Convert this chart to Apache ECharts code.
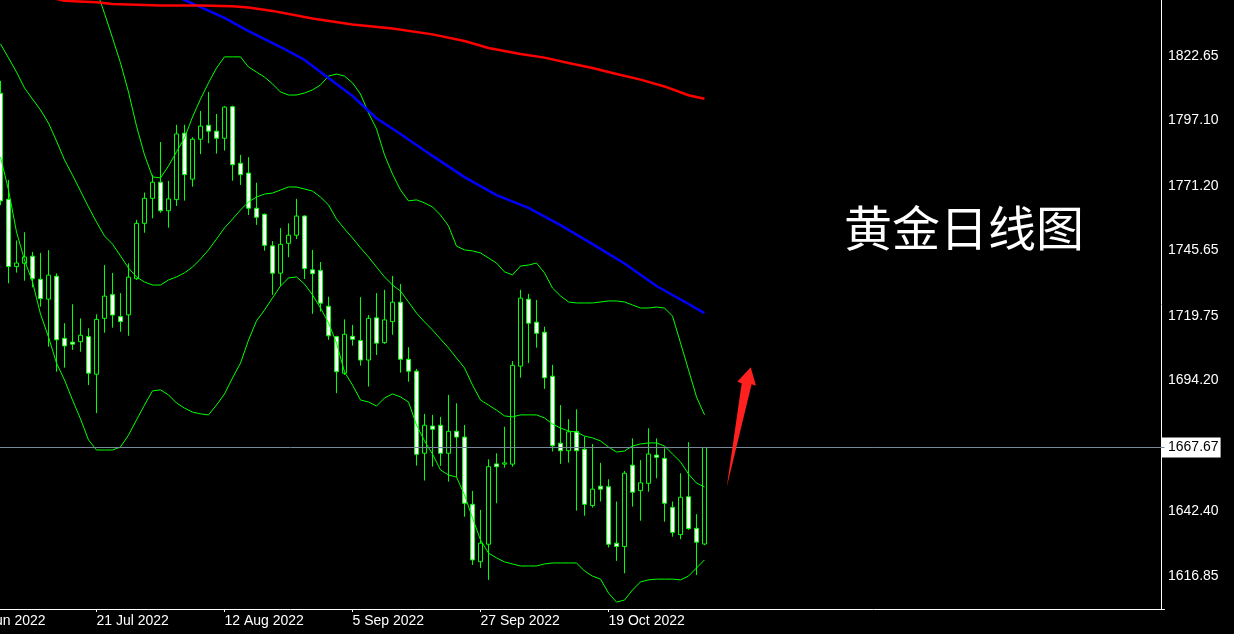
<!DOCTYPE html>
<html><head><meta charset="utf-8">
<script src="https://cdn.jsdelivr.net/npm/echarts/dist/echarts.min.js"></script>
<style>html,body{margin:0;padding:0;background:#000;}#c{width:1234px;height:634px;}</style>
</head><body><div id="c"></div>
<script>
// trading-day categories (first 4 are off-screen to the left)
const dates = ['29 Jun 2022','30 Jun 2022','1 Jul 2022','4 Jul 2022','5 Jul 2022','6 Jul 2022','7 Jul 2022','8 Jul 2022','11 Jul 2022','12 Jul 2022','13 Jul 2022','14 Jul 2022','15 Jul 2022','18 Jul 2022','19 Jul 2022','20 Jul 2022','21 Jul 2022','22 Jul 2022','25 Jul 2022','26 Jul 2022','27 Jul 2022','28 Jul 2022','29 Jul 2022','1 Aug 2022','2 Aug 2022','3 Aug 2022','4 Aug 2022','5 Aug 2022','8 Aug 2022','9 Aug 2022','10 Aug 2022','11 Aug 2022','12 Aug 2022','15 Aug 2022','16 Aug 2022','17 Aug 2022','18 Aug 2022','19 Aug 2022','22 Aug 2022','23 Aug 2022','24 Aug 2022','25 Aug 2022','26 Aug 2022','29 Aug 2022','30 Aug 2022','31 Aug 2022','1 Sep 2022','2 Sep 2022','5 Sep 2022','6 Sep 2022','7 Sep 2022','8 Sep 2022','9 Sep 2022','12 Sep 2022','13 Sep 2022','14 Sep 2022','15 Sep 2022','16 Sep 2022','19 Sep 2022','20 Sep 2022','21 Sep 2022','22 Sep 2022','23 Sep 2022','26 Sep 2022','27 Sep 2022','28 Sep 2022','29 Sep 2022','30 Sep 2022','3 Oct 2022','4 Oct 2022','5 Oct 2022','6 Oct 2022','7 Oct 2022','10 Oct 2022','11 Oct 2022','12 Oct 2022','13 Oct 2022','14 Oct 2022','17 Oct 2022','18 Oct 2022','19 Oct 2022','20 Oct 2022','21 Oct 2022','24 Oct 2022','25 Oct 2022','26 Oct 2022','27 Oct 2022','28 Oct 2022','31 Oct 2022','1 Nov 2022','2 Nov 2022','3 Nov 2022','4 Nov 2022'];
const firstCandleDate = '5 Jul 2022';
const emptySlots = 57;

// OHLC from 5 Jul 2022 to 4 Nov 2022
const opens = [1807.9,1765.9,1739.3,1740.6,1743.4,1734.3,1726.4,1735.5,1710.9,1709.4,
1709.6,1711.6,1696.7,1718.8,1728.2,1719.5,1720.2,1734.5,1756.4,1766.3,
1772.7,1761.4,1765.8,1792.1,1773.9,1789.7,1795.2,1792.9,1790.1,1802.6,
1780.2,1776.3,1762.4,1760.0,1747.5,1736.7,1748.5,1751.7,1759.3,1738.0,
1737.8,1723.6,1711.6,1697.1,1711.7,1710.0,1702.3,1719.0,1709.2,1717.5,
1725.2,1702.6,1697.9,1665.4,1676.2,1676.5,1665.4,1674.1,1671.8,1645.2,
1622.5,1629.4,1661.2,1661.1,1661.1,1699.9,1726.4,1717.3,1713.3,1695.9,
1669.4,1666.4,1674.0,1667.0,1644.7,1652.4,1652.2,1629.8,1628.5,1660.7,
1650.6,1653.5,1664.7,1663.4,1644.0,1633.2,1648.2,1635.7,1629.5];
const highs = [1812.8,1773.6,1749.6,1752.9,1745.1,1744.7,1745.8,1736.6,1716.9,1724.4,
1718.8,1714.9,1720.4,1739.9,1736.8,1728.8,1740.6,1757.8,1768.6,1775.6,
1788.6,1773.2,1795.4,1795.4,1790.5,1800.9,1808.4,1799.7,1802.8,1803.0,
1783.5,1782.6,1772.5,1760.3,1749.4,1754.5,1756.4,1766.1,1759.6,1745.9,
1741.1,1727.4,1711.9,1718.4,1716.2,1727.2,1720.1,1728.8,1730.1,1735.6,
1732.4,1707.4,1698.8,1681.0,1680.6,1679.8,1688.5,1685.2,1676.6,1650.5,
1643.0,1663.0,1665.4,1675.9,1701.9,1730.1,1728.5,1726.1,1715.5,1700.4,
1684.5,1678.9,1682.8,1672.0,1669.1,1661.6,1655.1,1646.3,1658.4,1671.3,
1662.7,1675.3,1671.3,1667.4,1646.3,1657.5,1669.8,1641.3,1667.9];
const lows = [1763.6,1732.7,1736.9,1733.7,1731.1,1723.4,1707.6,1697.7,1699.3,1706.3,
1705.6,1692.4,1681.3,1713.1,1715.1,1713.5,1711.9,1734.0,1752.7,1758.4,
1760.6,1754.7,1763.3,1765.4,1770.9,1783.8,1788.1,1784.0,1785.2,1773.3,
1771.6,1759.7,1755.8,1745.6,1728.1,1731.6,1743.0,1750.2,1734.4,1720.6,
1721.5,1710.3,1689.2,1696.4,1708.0,1700.1,1691.8,1704.3,1708.7,1712.3,
1697.3,1693.7,1660.5,1654.6,1660.1,1660.4,1654.2,1656.1,1640.3,1621.2,
1620.0,1615.3,1645.6,1659.7,1660.1,1695.3,1701.1,1707.2,1690.9,1666.1,
1661.2,1661.7,1642.7,1640.7,1643.9,1646.3,1628.1,1622.8,1617.9,1644.3,
1638.7,1650.2,1655.5,1638.3,1632.4,1631.4,1635.1,1617.2,1629.0];
const closes = [1765.3,1739.3,1740.7,1743.1,1734.5,1726.6,1735.9,1710.3,1707.9,1708.6,
1712.1,1697.1,1718.4,1727.6,1720.1,1717.5,1735.1,1756.4,1766.3,1772.7,
1761.4,1766.1,1791.8,1775.7,1789.7,1794.9,1792.9,1790.1,1802.4,1779.6,
1775.7,1762.4,1758.8,1747.7,1736.7,1748.1,1751.7,1759.3,1738.5,1736.5,
1724.8,1711.9,1697.7,1712.5,1710.5,1702.3,1718.8,1709.0,1718.2,1725.2,
1702.6,1697.9,1665.0,1676.5,1674.9,1665.4,1674.1,1671.8,1645.6,1623.2,
1629.8,1660.1,1660.1,1661.6,1700.2,1726.8,1716.9,1712.9,1695.3,1668.4,
1666.4,1673.9,1666.4,1645.2,1651.2,1651.2,1629.4,1628.5,1657.5,1650.0,
1653.7,1665.1,1663.8,1645.6,1634.1,1648.0,1635.6,1630.2,1667.67];

// Bollinger bands, aligned with candles
const bbMiddle = [1827.4,1821.9,1816.3,1810.0,1805.6,1801.3,1796.1,1789.0,1781.5,1775.5,
1769.2,1762.9,1756.9,1751.4,1748.2,1743.5,1738.7,1735.2,1733.2,1732.0,
1732.0,1734.0,1735.2,1736.8,1739.1,1742.3,1745.9,1750.2,1754.6,1758.1,
1761.7,1764.9,1766.8,1768.0,1768.4,1769.6,1770.8,1770.8,1770.0,1769.2,
1766.8,1763.7,1758.1,1754.2,1750.6,1746.7,1743.1,1739.1,1735.2,1732.0,
1729.6,1725.3,1720.9,1717.4,1714.2,1710.6,1707.1,1703.1,1699.2,1692.4,
1686.5,1684.5,1682.5,1680.2,1679.8,1680.6,1680.6,1680.6,1679.4,1677.0,
1675.4,1674.2,1673.8,1672.2,1671.5,1670.3,1667.9,1665.9,1666.3,1668.3,
1669.1,1669.5,1669.5,1668.3,1665.1,1662.0,1657.2,1653.6,1652.1];
const bbLower = [1782.7,1769.6,1753.0,1741.9,1733.2,1720.5,1711.4,1701.1,1694.4,1686.5,
1679.0,1670.7,1666.7,1666.7,1666.7,1667.9,1672.6,1678.6,1684.5,1690.1,
1690.5,1688.5,1685.3,1683.3,1681.7,1681.0,1680.6,1684.5,1688.9,1695.2,
1701.1,1710.2,1717.8,1722.1,1726.9,1731.6,1734.8,1735.2,1732.4,1728.1,
1722.9,1717.0,1709.1,1697.6,1692.4,1686.5,1685.7,1684.1,1687.3,1688.9,
1687.7,1685.7,1676.6,1670.3,1665.1,1658.8,1656.8,1656.0,1648.9,1639.8,
1631.1,1625.9,1624.0,1622.4,1621.6,1620.8,1620.8,1620.8,1621.6,1622.0,
1622.0,1622.0,1622.0,1618.8,1616.8,1615.6,1610.1,1606.5,1607.3,1611.3,
1614.5,1615.3,1615.6,1615.6,1615.6,1615.3,1616.8,1620.0,1623.2];
const bbUpper = [null,null,null,null,null,null,null,null,null,null,null,
1858.7,1848.8,1839.5,1829.8,1819.9,1808.4,1794.9,1783.5,1774.8,
1774.4,1779.1,1784.7,1790.2,1798.5,1805.6,1812.0,1817.9,1822.3,1822.3,
1822.3,1818.3,1816.3,1814.3,1811.6,1808.4,1807.2,1807.2,1808.0,1809.2,
1811.2,1814.7,1815.5,1814.7,1812.0,1807.6,1800.1,1793.8,1783.5,1775.9,
1769.6,1765.3,1765.7,1764.5,1762.9,1759.7,1755.4,1747.4,1745.9,1745.5,
1744.7,1742.7,1740.7,1737.2,1736.0,1739.5,1739.9,1740.7,1736.8,1730.8,
1727.7,1725.3,1724.9,1724.9,1724.9,1725.3,1725.7,1725.7,1725.3,1724.1,
1722.9,1722.9,1723.3,1722.9,1719.7,1709.1,1698.4,1687.7,1680.6];

// moving averages read at sample dates
const maRed = [['13 Jul 2022',1846.0],['15 Jul 2022',1844.5],['21 Jul 2022',1843.9],['25 Jul 2022',1843.2],
['2 Aug 2022',1842.6],['9 Aug 2022',1842.6],['15 Aug 2022',1842.3],['17 Aug 2022',1841.8],['22 Aug 2022',1840.5],
['29 Aug 2022',1837.5],['5 Sep 2022',1835.1],['12 Sep 2022',1833.5],['19 Sep 2022',1831.2],['23 Sep 2022',1828.6],
['28 Sep 2022',1825.8],['4 Oct 2022',1823.4],['7 Oct 2022',1822.0],['12 Oct 2022',1819.9],['17 Oct 2022',1817.9],
['20 Oct 2022',1815.5],['25 Oct 2022',1813.3],['28 Oct 2022',1810.6],['2 Nov 2022',1807.1],['4 Nov 2022',1805.7]];
const maBlue = [['2 Aug 2022',1849.2],['5 Aug 2022',1844.8],['9 Aug 2022',1842.0],['12 Aug 2022',1837.7],
['17 Aug 2022',1832.5],['23 Aug 2022',1826.2],['26 Aug 2022',1821.1],['31 Aug 2022',1813.9],['5 Sep 2022',1806.8],
['8 Sep 2022',1798.0],['13 Sep 2022',1791.8],['19 Sep 2022',1783.1],['23 Sep 2022',1774.7],['29 Sep 2022',1767.6],
['5 Oct 2022',1762.5],['11 Oct 2022',1755.7],['17 Oct 2022',1748.2],['21 Oct 2022',1740.5],['27 Oct 2022',1731.6],
['2 Nov 2022',1724.5],['4 Nov 2022',1720.9]];

const priceTicks = [1616.85,1642.40,1694.20,1719.75,1745.65,1771.20,1797.10,1822.65];
const currentPrice = 1667.67;
const yMin = 1603.77, yMax = 1844.81;
const titleText = '黄金日线图';

// ---- build ----
const cats = dates.concat(new Array(emptySlots).fill(''));
const off = dates.indexOf(firstCandleDate);
const candleData = cats.map((d, j) => {
  const i = j - off;
  return (i >= 0 && i < opens.length) ? [opens[i], closes[i], lows[i], highs[i]] : '-';
});
const aligned = arr => cats.map((d, j) => {
  const i = j - off;
  return (i >= 0 && i < arr.length && arr[i] != null) ? arr[i] : null;
});
const pairs = arr => arr.map(([d, v]) => [dates.indexOf(d), v]);
const showIdx = (i, v) => v !== '' && i % 16 === 0;
const font = 'Liberation Sans';

const chart = echarts.init(document.getElementById('c'), null, {renderer: 'canvas'});
const greenLine = (data) => ({type: 'line', data: data, showSymbol: false, symbol: 'none', z: 4,
  lineStyle: {color: '#00ff00', width: 1}, silent: true});
chart.setOption({
  backgroundColor: '#000',
  animation: false,
  grid: {left: -35.5, right: 69.5, top: 0, bottom: 25, containLabel: false, outerBoundsMode: 'none'},
  xAxis: {
    type: 'category', data: cats, boundaryGap: true,
    axisLine: {show: true, lineStyle: {color: '#fff', width: 1}},
    axisTick: {show: true, alignWithLabel: true, length: 3, interval: showIdx, lineStyle: {color: '#fff'}},
    axisLabel: {interval: showIdx, align: 'left', color: '#fff', fontSize: 14, fontFamily: font, margin: 5},
    splitLine: {show: false}
  },
  yAxis: {
    type: 'value', position: 'right', min: yMin, max: yMax, offset: -3.5,
    splitLine: {show: false},
    axisLine: {show: true, lineStyle: {color: '#fff', width: 1}},
    axisTick: {show: false},
    axisLabel: {
      customValues: priceTicks.concat([currentPrice]),
      margin: 1,
      formatter: v => (Math.abs(v - currentPrice) < 1e-6 ? '{cur|' : '{n|') + v.toFixed(2) + '}',
      rich: {
        n: {color: '#fff', fontSize: 14, fontFamily: font, padding: [0, 0, 0, 6]},
        cur: {color: '#000', backgroundColor: '#fff', fontSize: 14, fontFamily: font, padding: [3, 2, 3, 6]}
      }
    }
  },
  series: [
    {type: 'line', data: cats.map(() => null), z: 1, silent: true, symbol: 'none',
     markLine: {symbol: ['none', 'none'], silent: true, label: {show: false},
       lineStyle: {color: '#778899', width: 1, type: 'solid'}, data: [{yAxis: currentPrice}]}},
    {type: 'candlestick', data: candleData, barWidth: 4, z: 2, silent: true,
     itemStyle: {color: '#000', color0: '#fff', borderColor: '#00ff00', borderColor0: '#00ff00', borderColorDoji: '#00ff00', borderWidth: 1}},
    greenLine(aligned(bbUpper)),
    greenLine(aligned(bbMiddle)),
    greenLine(aligned(bbLower)),
    {type: 'line', data: pairs(maBlue), showSymbol: false, symbol: 'none', z: 5, silent: true,
     lineStyle: {color: '#0000ff', width: 2.5}},
    {type: 'line', data: pairs(maRed), showSymbol: false, symbol: 'none', z: 5, silent: true,
     lineStyle: {color: '#ff0000', width: 2.5}}
  ],
  graphic: [
    {type: 'text', x: 964, y: 228, z: 10,
     style: {text: titleText, fill: '#fff', fontSize: 48, fontFamily: 'Noto Sans CJK SC', align: 'center', verticalAlign: 'middle'}},
    {type: 'polygon', z: 10,
     shape: {points: [[726.7, 487.3], [751.6, 384.3], [756, 385.7], [750.7, 367.3], [737.3, 381.7], [741.7, 383.3]]},
     style: {fill: '#ff2020'}}
  ]
});
</script>
</body></html>
